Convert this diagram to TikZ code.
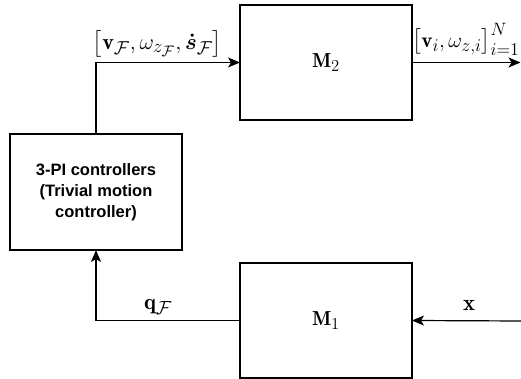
\RequirePackage{fix-cm}
\documentclass[tikz,border=0pt]{standalone}
\usepackage{amsmath,amssymb}
\usepackage{graphicx}
\usepackage{fontspec}
\newfontfamily\ctrlfont{Liberation Sans}
\usetikzlibrary{arrows.meta,positioning}
\DeclareMathSizes{17}{17}{14}{12}
\DeclareMathSizes{19}{19}{16}{13}
\newcommand{\lblmath}[2]{\resizebox{#1}{!}{\fontsize{19}{23}\selectfont$#2$}}
\newcommand{\boxmath}[1]{\resizebox{28pt}{!}{\fontsize{17}{20}\selectfont$#1$}}
\tikzset{
  blk/.style={draw=black, line width=1.2pt, minimum width=172pt, minimum height=115pt, inner sep=0pt, outer sep=0pt, fill=white},
  conn/.style={line width=1.2pt, -{Stealth[length=12pt,width=10pt,inset=3pt]}},
  lbl/.style={inner sep=0pt}
}
\begin{document}
\begin{tikzpicture}[x=1pt,y=1pt]
\useasboundingbox (0,0) rectangle (521,379);
\node[blk] (M2) at (326,316.5) {\boxmath{\mathbf{M}_2}};
\node[blk, minimum height=116pt, align=center, font=\ctrlfont\bfseries\fontsize{16.5}{21}\selectfont] (ctrl) at (96,187) {3-PI controllers\\(Trivial motion\\controller)};
\node[blk] (M1) at (326,58.5) {\boxmath{\mathbf{M}_1}};
\coordinate (out) at (520.5,316.5);
\coordinate (xin) at (521,58);
\draw[conn] (ctrl.north) |- (M2.west);
\draw[conn] (M2.east) -- (out);
\draw[conn] (xin) -- (M1.east);
\draw[conn] (M1.west) -| (ctrl.south);
\node[lbl] (l1) at (157.5,335.5) {\lblmath{129pt}{\bigl[\mathbf{v}_{\mathcal{F}},\omega_{z_{\mathcal{F}}},\boldsymbol{\dot{s}}_{\mathcal{F}}\bigr]}};
\node[lbl] (l2) at (466,339.5) {\lblmath{107pt}{\bigl[\mathbf{v}_{i},\omega_{z,i}\bigr]_{i=1}^{N}}};
\node[lbl] (l3) at (158,72) {\lblmath{28pt}{\mathbf{q}_{\mathcal{F}}}};
\node[lbl] (l4) at (469,74) {\lblmath{12pt}{\mathbf{x}}};
\end{tikzpicture}
\end{document}
